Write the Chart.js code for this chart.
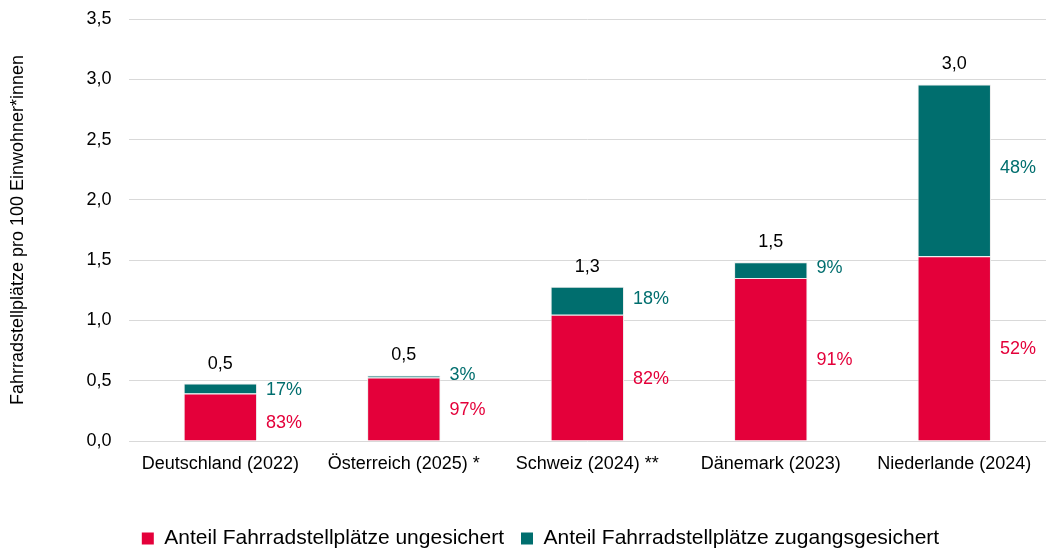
<!DOCTYPE html>
<html>
<head>
<meta charset="utf-8">
<script src="https://cdn.jsdelivr.net/npm/chart.js@4/dist/chart.umd.min.js"></script>
<style>
  body { margin: 0; background: #fff; }
  #wrap { width: 1046px; height: 549px; }
</style>
</head>
<body>
<div id="wrap"><canvas id="chart"></canvas></div>
<script>
var categories = ["Deutschland (2022)", "Österreich (2025) *", "Schweiz (2024) **", "Dänemark (2023)", "Niederlande (2024)"];
var ungesichert = [0.393, 0.526, 1.047, 1.352, 1.532];
var gesichert = [0.083, 0.017, 0.233, 0.130, 1.425];
var totalLabels = ["0,5", "0,5", "1,3", "1,5", "3,0"];
var pctUngesichert = ["83%", "97%", "82%", "91%", "52%"];
var pctGesichert = ["17%", "3%", "18%", "9%", "48%"];

var RED = '#E4003A';
var TEAL = '#006E6E';

Chart.defaults.font.family = "'Liberation Sans', Arial, sans-serif";
Chart.defaults.color = '#000';

var labelPlugin = {
  id: 'barLabels',
  afterDatasetsDraw: function(chart) {
    var ctx = chart.ctx;
    var m0 = chart.getDatasetMeta(0);
    var m1 = chart.getDatasetMeta(1);
    ctx.save();
    ctx.font = "18px 'Liberation Sans', Arial, sans-serif";
    for (var i = 0; i < categories.length; i++) {
      var b0 = m0.data[i], b1 = m1.data[i];
      var right = b0.x + b0.width / 2 + 9;
      // Summe über dem Balken
      ctx.fillStyle = '#000';
      ctx.textAlign = 'center';
      ctx.textBaseline = 'middle';
      ctx.fillText(totalLabels[i], b1.x, b1.y - 20);
      // Anteile rechts neben dem Balken
      ctx.textAlign = 'left';
      var y0 = (b0.y + b0.base) / 2;
      var y1 = (b1.y + b1.base) / 2;
      if (y0 - y1 < 30) { y1 = y1 + 3; y0 = Math.max(y0 + 2, y1 + 30); }
      ctx.fillStyle = RED;
      ctx.fillText(pctUngesichert[i], right, y0 + 1);
      ctx.fillStyle = TEAL;
      ctx.fillText(pctGesichert[i], right, y1 - 2);
    }
    ctx.restore();
  }
};

new Chart(document.getElementById('chart'), {
  type: 'bar',
  data: {
    labels: categories,
    datasets: [
      {
        label: 'Anteil Fahrradstellplätze ungesichert',
        data: ungesichert,
        backgroundColor: RED,
        borderColor: '#ececec',
        borderWidth: 1,
        barPercentage: 0.4,
        categoryPercentage: 1
      },
      {
        label: 'Anteil Fahrradstellplätze zugangsgesichert',
        data: gesichert,
        backgroundColor: TEAL,
        borderColor: '#ececec',
        borderWidth: 1,
        barPercentage: 0.4,
        categoryPercentage: 1
      }
    ]
  },
  options: {
    responsive: true,
    maintainAspectRatio: false,
    animation: false,
    layout: { padding: { top: 19, right: -4, left: 7, bottom: 0 } },
    scales: {
      x: {
        stacked: true,
        grid: { display: false },
        border: { display: false },
        ticks: { font: { size: 18 }, color: '#000', padding: 4, maxRotation: 0 },
        afterFit: function(scale) { scale.height = 70; }
      },
      y: {
        stacked: true,
        min: 0,
        max: 3.5,
        ticks: {
          stepSize: 0.5,
          font: { size: 18 },
          color: '#000',
          padding: 17,
          callback: function(v) { return v.toFixed(1).replace('.', ','); }
        },
        grid: { color: '#d9d9d9', drawTicks: false },
        border: { display: false },
        title: {
          display: true,
          text: 'Fahrradstellplätze pro 100 Einwohner*innen',
          font: { size: 18 },
          color: '#000',
          padding: { top: 0, bottom: 41 }
        },
        afterFit: function(scale) { scale.paddingTop = 0; scale.paddingBottom = 0; }
      }
    },
    plugins: {
      legend: {
        position: 'bottom',
        labels: {
          font: { size: 21, lineHeight: 1 },
          color: '#000',
          boxWidth: 12,
          boxHeight: 12,
          padding: 17,
          generateLabels: function(chart) {
            return chart.data.datasets.map(function(ds, i) {
              return { text: ds.label, fillStyle: ds.backgroundColor, strokeStyle: ds.backgroundColor, lineWidth: 0, datasetIndex: i };
            });
          }
        }
      },
      tooltip: { enabled: false }
    }
  },
  plugins: [labelPlugin, {
    id: 'legendFit',
    beforeInit: function(chart) {
      var fit = chart.legend.fit;
      chart.legend.fit = function() { fit.call(this); this.height -= 10; };
    },
    afterLayout: function(chart) {
      chart.legend.left += 12;
      chart.legend.right += 12;
    }
  }]
});
</script>
</body>
</html>
